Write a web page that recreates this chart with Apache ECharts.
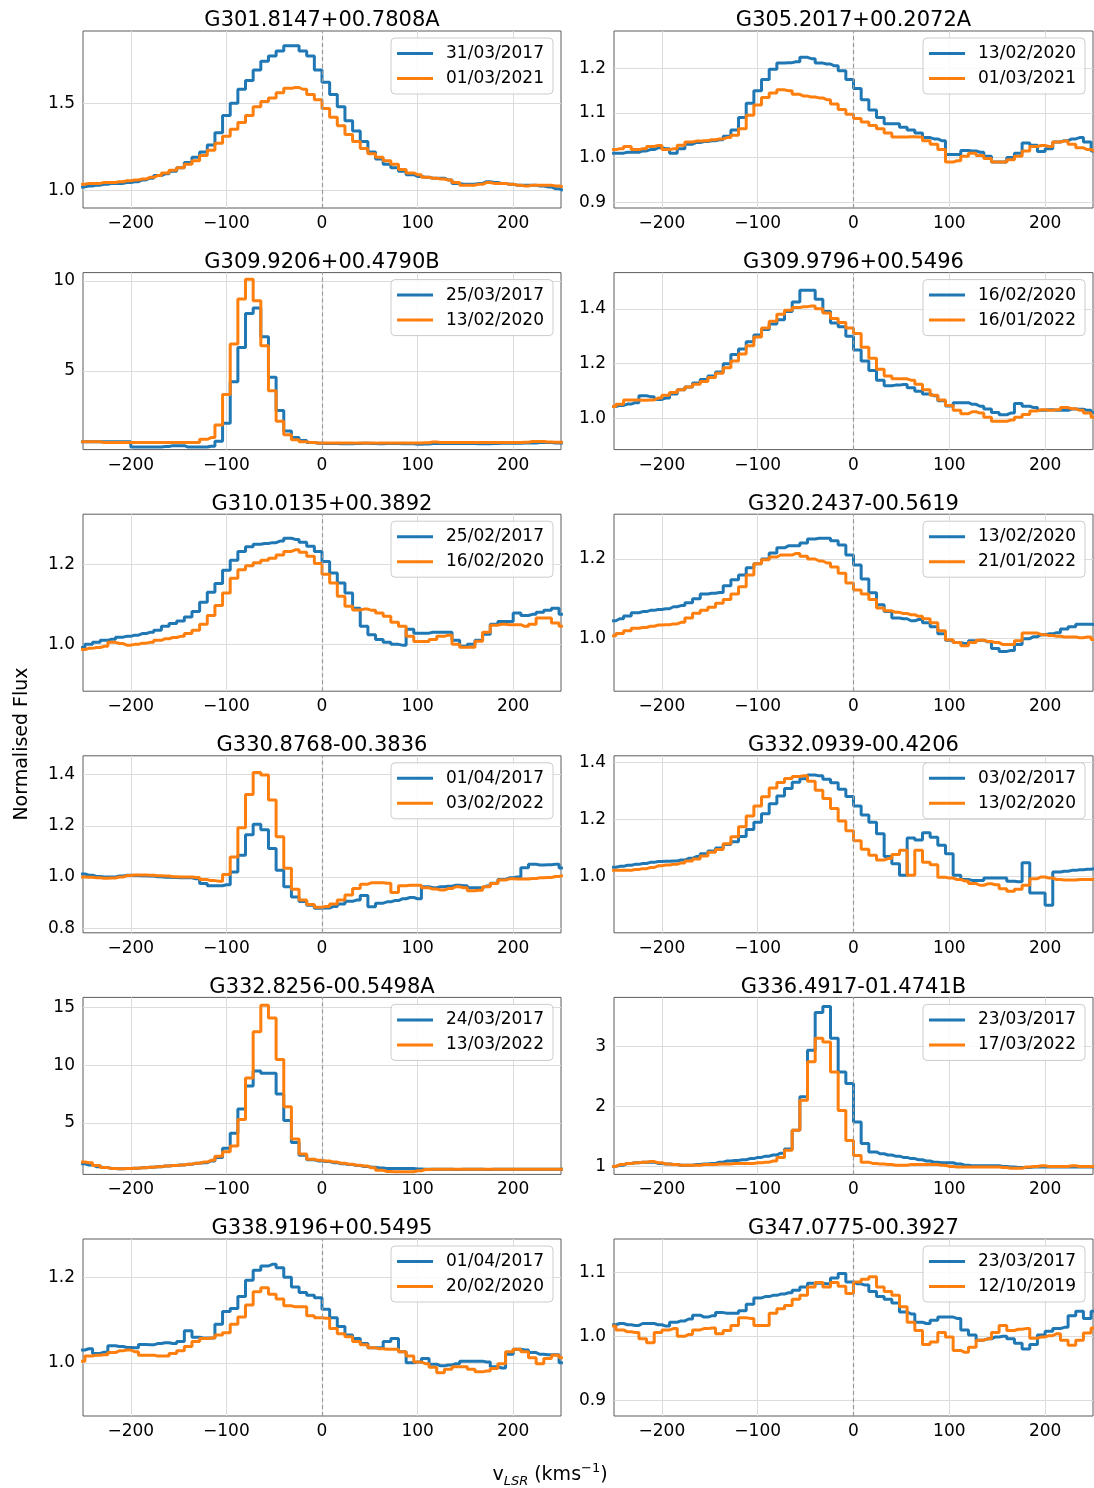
<!DOCTYPE html>
<html><head><meta charset="utf-8">
<script src="https://cdn.jsdelivr.net/npm/echarts@6/dist/echarts.min.js"></script>
<style>html,body{margin:0;padding:0;background:#fff}#c{width:1094px;height:1488px}</style>
</head><body><div id="c"></div>
<script>
// velocity channel centres (km/s)
const velocity = [-252,-244,-236,-228,-220,-212,-204,-196,-188,-180,-172,-164,-156,-148,-140,-132,
 -124,-116,-108,-100,-92,-84,-76,-68,-60,-52,-44,-36,-28,-20,-12,-4,
 4,12,20,28,36,44,52,60,68,76,84,92,100,108,116,124,
 132,140,148,156,164,172,180,188,196,204,212,220,228,236,244,252];

const titles = ['G301.8147+00.7808A','G305.2017+00.2072A','G309.9206+00.4790B','G309.9796+00.5496',
 'G310.0135+00.3892','G320.2437-00.5619','G330.8768-00.3836','G332.0939-00.4206',
 'G332.8256-00.5498A','G336.4917-01.4741B','G338.9196+00.5495','G347.0775-00.3927'];
const datesBlue = ['31/03/2017','13/02/2020','25/03/2017','16/02/2020','25/02/2017','13/02/2020',
 '01/04/2017','03/02/2017','24/03/2017','23/03/2017','01/04/2017','23/03/2017'];
const datesOrange = ['01/03/2021','01/03/2021','13/02/2020','16/01/2022','16/02/2020','21/01/2022',
 '03/02/2022','13/02/2020','13/03/2022','17/03/2022','20/02/2020','12/10/2019'];

const xTicks = [-200,-100,0,100,200];
const yTicks = [[1.0,1.5],[0.9,1.0,1.1,1.2],[5,10],[1.0,1.2,1.4],[1.0,1.2],[1.0,1.2],
 [0.8,1.0,1.2,1.4],[1.0,1.2,1.4],[5,10,15],[1,2,3],[1.0,1.2],[0.9,1.0,1.1]];
const yDecimals = [1,1,0,1,1,1,1,1,0,0,1,1];
const yMin = [0.899,0.887,0.63,0.887,0.883,0.868,0.782,0.804,0.53,0.867,0.876,0.8755];
const yMax = [1.914,1.284,10.47,1.532,1.325,1.3125,1.474,1.422,15.89,3.81,1.289,1.152];

// G301.8147+00.7808A
const blue1 = [1.02,1.025,1.03,1.035,1.04,1.04,1.045,1.05, 1.06,1.07,1.085,1.095,1.11,1.13,1.16,1.19,
 1.22,1.26,1.33,1.43,1.50,1.58,1.63,1.69, 1.74,1.77,1.80,1.83,1.83,1.80,1.77,1.69,
 1.62,1.55,1.48,1.40,1.34,1.28,1.22,1.18, 1.15,1.13,1.11,1.09,1.08,1.075,1.07,1.07,
 1.06,1.04,1.035,1.035,1.04,1.05,1.045,1.04, 1.035,1.03,1.03,1.03,1.025,1.02,1.01,1.00];
const orange1 = [1.035,1.04,1.04,1.045,1.045,1.05,1.055,1.06, 1.065,1.075,1.085,1.10,1.115,1.13,1.15,1.17,
 1.20,1.23,1.27,1.31,1.35,1.39,1.43,1.48, 1.51,1.53,1.56,1.585,1.59,1.58,1.55,1.52,
 1.47,1.42,1.37,1.32,1.28,1.24,1.21,1.19, 1.17,1.15,1.12,1.10,1.09,1.075,1.07,1.065,
 1.06,1.045,1.03,1.03,1.035,1.045,1.04,1.04, 1.035,1.03,1.025,1.03,1.03,1.03,1.025,1.02];
// G305.2017+00.2072A
const blue2 = [1.01,1.01,1.012,1.012,1.015,1.018,1.022,1.02, 1.01,1.02,1.03,1.034,1.036,1.038,1.04,1.048,
 1.062,1.09,1.122,1.15,1.175,1.198,1.212,1.213, 1.215,1.225,1.222,1.212,1.21,1.206,1.195,1.175,
 1.155,1.13,1.107,1.09,1.076,1.076,1.068,1.062, 1.055,1.045,1.042,1.038,1.007,1.007,1.016,1.015,
 1.012,1.003,0.99,0.99,1.0,1.01,1.033,1.028, 1.014,1.02,1.035,1.038,1.042,1.045,1.035,1.015];
const orange2 = [1.018,1.02,1.025,1.018,1.02,1.025,1.027,1.018, 1.02,1.028,1.035,1.037,1.038,1.04,1.042,1.045,
 1.05,1.065,1.095,1.118,1.135,1.145,1.152,1.15, 1.142,1.138,1.136,1.134,1.13,1.12,1.108,1.097,
 1.088,1.08,1.072,1.065,1.055,1.046,1.046,1.047, 1.046,1.038,1.03,1.018,0.99,0.993,1.003,1.01,
 1.005,0.998,0.99,0.99,0.995,1.003,1.015,1.025, 1.027,1.025,1.035,1.037,1.03,1.022,1.018,1.015];
// G309.9206+00.4790B
const blue3 = [1.06,1.06,1.06,1.06,1.06,1.06,1.06,0.78, 0.78,0.78,0.78,0.8,0.85,0.85,0.77,0.77,
 0.77,0.82,1.1,2.1,4.4,6.3,8.2,8.5, 6.9,4.65,2.8,1.66,1.3,1.14,1.02,0.98,
 0.97,0.97,0.96,0.96,0.97,0.98,0.97,0.96, 0.97,0.97,0.96,0.95,0.93,0.94,0.97,0.97,
 0.97,0.97,0.97,0.97,0.96,0.96,0.97,0.98, 0.98,0.98,0.99,1.0,1.02,1.02,1.0,1.0];
const orange3 = [1.07,1.07,1.07,1.02,1.02,1.02,1.02,1.02, 1.02,1.02,1.02,1.02,1.02,1.02,1.02,1.02,
 1.2,1.3,2.0,3.7,6.5,9.0,10.1,8.9, 6.4,3.9,2.2,1.45,1.18,1.06,1.02,1.0,
 1.0,1.0,1.0,1.0,0.99,0.99,0.99,1.0, 1.0,1.0,1.0,1.0,1.0,1.01,1.05,1.03,
 1.02,1.02,1.02,1.02,1.02,1.02,1.02,1.02, 1.02,1.02,1.04,1.08,1.08,1.05,1.04,1.04];
// G309.9796+00.5496
const blue4 = [1.044,1.048,1.053,1.058,1.083,1.08,1.07,1.075, 1.09,1.105,1.115,1.13,1.142,1.155,1.17,1.2,
 1.234,1.254,1.28,1.305,1.325,1.345,1.36,1.39, 1.425,1.468,1.468,1.435,1.39,1.348,1.335,1.3,
 1.25,1.21,1.175,1.14,1.12,1.122,1.124,1.112, 1.1,1.09,1.083,1.065,1.046,1.058,1.058,1.052,
 1.045,1.035,1.022,1.014,1.02,1.055,1.045,1.04, 1.03,1.032,1.03,1.03,1.035,1.034,1.03,1.022];
const orange4 = [1.044,1.052,1.068,1.068,1.067,1.068,1.075,1.085, 1.095,1.105,1.115,1.125,1.135,1.15,1.165,1.185,
 1.21,1.235,1.265,1.297,1.33,1.355,1.38,1.395, 1.405,1.408,1.41,1.4,1.385,1.365,1.35,1.33,
 1.31,1.26,1.22,1.18,1.155,1.145,1.145,1.14, 1.125,1.105,1.085,1.068,1.048,1.03,1.018,1.025,
 1.02,1.005,0.99,0.99,0.995,1.005,1.015,1.028, 1.032,1.03,1.032,1.04,1.036,1.03,1.02,1.005];
// G310.0135+00.3892
const blue5 = [0.992,1.0,1.005,1.01,1.013,1.018,1.02,1.023, 1.027,1.03,1.035,1.045,1.052,1.058,1.068,1.082,
 1.105,1.13,1.152,1.185,1.21,1.232,1.244,1.25, 1.252,1.254,1.258,1.265,1.262,1.255,1.245,1.232,
 1.207,1.178,1.153,1.128,1.09,1.045,1.024,1.012, 1.005,1.0,0.998,1.038,1.028,1.028,1.03,1.03,
 1.03,1.01,0.995,1.0,1.01,1.025,1.05,1.057, 1.057,1.078,1.072,1.075,1.08,1.085,1.09,1.075];
const orange5 = [0.987,0.99,0.992,0.995,1.005,1.002,0.998,1.0, 1.003,1.005,1.01,1.014,1.017,1.02,1.027,1.035,
 1.05,1.072,1.097,1.128,1.165,1.186,1.196,1.204, 1.21,1.215,1.223,1.232,1.236,1.23,1.22,1.202,
 1.175,1.153,1.12,1.095,1.086,1.088,1.085,1.078, 1.07,1.055,1.045,1.02,1.007,1.007,1.012,1.02,
 1.023,1.0,0.993,0.993,1.008,1.03,1.048,1.05, 1.049,1.049,1.045,1.05,1.066,1.066,1.053,1.045];
// G320.2437-00.5619
const blue6 = [1.045,1.05,1.057,1.065,1.068,1.071,1.073,1.075, 1.08,1.083,1.09,1.1,1.112,1.114,1.116,1.133,
 1.148,1.16,1.178,1.188,1.2,1.215,1.228,1.233, 1.233,1.24,1.25,1.252,1.252,1.246,1.235,1.21,
 1.185,1.15,1.115,1.085,1.068,1.052,1.05,1.045, 1.048,1.04,1.03,1.012,0.996,0.99,0.988,0.995,
 0.996,0.992,0.975,0.968,0.97,0.985,1.0,1.005, 1.01,1.012,1.015,1.024,1.03,1.036,1.036,1.035];
const orange6 = [1.007,1.013,1.02,1.026,1.028,1.031,1.034,1.035, 1.037,1.041,1.052,1.064,1.071,1.079,1.089,1.098,
 1.112,1.13,1.16,1.188,1.198,1.205,1.21,1.21, 1.214,1.207,1.2,1.195,1.19,1.18,1.164,1.14,
 1.122,1.112,1.098,1.077,1.07,1.066,1.063,1.06, 1.056,1.05,1.04,1.02,0.997,0.99,0.982,0.99,
 0.996,0.993,0.99,0.985,0.985,0.995,1.014,1.014, 1.01,1.008,1.006,1.004,1.004,1.002,1.004,0.998];
// G330.8768-00.3836
const blue7 = [1.012,1.007,1.002,1.0,1.0,1.004,1.007,1.006, 1.005,1.004,1.001,0.999,0.998,0.997,0.997,0.993,
 0.975,0.966,0.966,0.97,1.02,1.085,1.165,1.206, 1.185,1.112,1.027,0.962,0.922,0.904,0.89,0.878,
 0.879,0.885,0.895,0.905,0.91,0.928,0.884,0.898, 0.903,0.908,0.915,0.92,0.915,0.962,0.958,0.962,
 0.964,0.968,0.966,0.958,0.958,0.965,0.976,0.99, 0.997,1.0,1.036,1.05,1.047,1.048,1.05,1.035];
const orange7 = [1.0,0.999,0.997,0.995,0.996,1.0,1.006,1.008, 1.008,1.007,1.005,1.004,1.001,1.0,1.0,0.998,
 0.99,0.986,0.984,1.01,1.078,1.193,1.323,1.409, 1.399,1.301,1.158,1.034,0.952,0.91,0.893,0.882,
 0.885,0.895,0.91,0.93,0.955,0.972,0.978,0.978, 0.976,0.94,0.966,0.968,0.968,0.958,0.953,0.949,
 0.955,0.962,0.958,0.946,0.948,0.962,0.975,0.988, 0.993,0.992,0.992,0.994,0.997,0.998,1.002,1.006];
// G332.0939-00.4206
const blue8 = [1.033,1.036,1.04,1.043,1.046,1.05,1.053,1.054, 1.055,1.058,1.064,1.07,1.08,1.09,1.1,1.112,
 1.122,1.14,1.165,1.19,1.22,1.255,1.282,1.308, 1.33,1.342,1.355,1.352,1.34,1.328,1.305,1.28,
 1.247,1.215,1.19,1.15,1.07,1.045,1.005,1.135, 1.128,1.153,1.138,1.11,1.08,1.005,0.99,0.987,
 0.987,0.995,0.995,0.995,0.984,0.982,1.049,0.943, 0.943,0.9,1.016,1.019,1.022,1.024,1.026,1.028];
const orange8 = [1.022,1.022,1.022,1.025,1.028,1.032,1.038,1.041, 1.043,1.048,1.055,1.062,1.072,1.085,1.095,1.115,
 1.139,1.174,1.212,1.247,1.279,1.31,1.329,1.343, 1.35,1.352,1.333,1.302,1.273,1.238,1.194,1.16,
 1.125,1.096,1.075,1.058,1.063,1.077,1.092,1.005, 1.092,1.05,1.042,0.998,0.995,0.99,0.985,0.976,
 0.97,0.975,0.972,0.958,0.949,0.956,0.97,0.993, 0.999,0.995,0.99,0.988,0.988,0.99,0.99,0.99];
// G332.8256-00.5498A
const blue9 = [1.45,1.35,1.2,1.12,1.05,1.02,1.04,1.06, 1.1,1.15,1.2,1.25,1.3,1.35,1.4,1.5,
 1.55,1.7,2.0,2.8,4.1,6.2,8.2,9.5, 9.3,9.3,7.5,5.2,3.3,2.2,1.8,1.7,
 1.65,1.55,1.45,1.38,1.3,1.22,1.15,1.08, 1.05,1.05,1.05,1.04,1.0,0.97,0.97,0.97,
 0.97,0.96,0.97,0.97,0.97,0.96,0.97,0.97, 0.98,0.98,0.98,0.98,0.98,0.98,0.98,0.98];
const orange9 = [1.6,1.55,1.3,1.12,1.05,1.02,1.04,1.06, 1.1,1.15,1.2,1.25,1.3,1.35,1.42,1.5,
 1.6,1.75,2.1,2.5,3.0,5.3,8.9,12.9, 15.2,14.1,10.5,6.4,3.6,2.3,1.85,1.75,
 1.7,1.6,1.5,1.42,1.33,1.25,1.1,0.88, 0.78,0.76,0.76,0.76,0.85,0.95,0.97,0.97,
 0.97,0.97,0.97,0.97,0.97,0.97,0.97,0.97, 0.98,0.98,0.98,0.98,0.98,0.98,0.98,0.98];
// G336.4917-01.4741B
const blue10 = [1.0,1.02,1.05,1.06,1.07,1.07,1.05,1.04, 1.03,1.02,1.02,1.03,1.04,1.05,1.07,1.09,
 1.1,1.11,1.13,1.15,1.17,1.19,1.22,1.29, 1.6,2.16,2.93,3.56,3.66,3.13,2.57,2.38,
 1.74,1.38,1.24,1.21,1.19,1.17,1.15,1.13, 1.11,1.09,1.07,1.06,1.06,1.04,1.02,1.01,
 1.01,1.01,1.01,1.0,0.99,0.98,0.98,0.99, 0.99,0.99,0.99,0.99,0.99,0.99,0.99,0.99];
const orange10 = [1.0,1.03,1.05,1.06,1.07,1.08,1.06,1.04, 1.03,1.02,1.02,1.02,1.03,1.03,1.04,1.04,
 1.05,1.05,1.05,1.06,1.07,1.09,1.15,1.27, 1.6,2.1,2.74,3.13,3.07,2.57,1.93,1.43,
 1.18,1.07,1.05,1.04,1.03,1.02,1.02,1.03, 1.03,1.03,1.03,1.02,1.0,0.99,0.99,0.99,
 0.99,0.99,0.99,0.98,0.97,0.97,0.99,1.0, 1.01,1.0,1.0,1.0,1.01,1.0,1.0,1.0];
// G338.9196+00.5495
const blue11 = [1.03,1.033,1.022,1.025,1.04,1.038,1.036,1.035, 1.043,1.042,1.045,1.047,1.045,1.05,1.075,1.06,
 1.058,1.058,1.09,1.12,1.127,1.155,1.193,1.216, 1.226,1.23,1.222,1.2,1.177,1.164,1.158,1.152,
 1.125,1.105,1.085,1.065,1.057,1.045,1.035,1.035, 1.05,1.057,1.026,1.0,1.002,1.01,0.997,0.993,
 0.995,0.998,1.004,1.004,1.004,1.002,0.991,0.988, 1.02,1.032,1.03,1.024,1.02,1.019,1.019,1.0];
const orange11 = [1.004,1.016,1.018,1.019,1.024,1.028,1.03,1.026, 1.018,1.018,1.016,1.016,1.022,1.028,1.038,1.05,
 1.057,1.058,1.065,1.07,1.09,1.107,1.135,1.166, 1.175,1.16,1.149,1.133,1.131,1.131,1.11,1.105,
 1.104,1.08,1.068,1.061,1.05,1.042,1.035,1.033, 1.032,1.032,1.026,1.016,1.002,0.998,0.99,0.977,
 0.985,0.991,0.991,0.985,0.979,0.981,0.987,0.998, 1.026,1.032,1.026,1.012,0.998,1.01,1.018,1.012];
// G347.0775-00.3927
const blue12 = [1.018,1.02,1.018,1.017,1.02,1.02,1.018,1.016, 1.022,1.024,1.027,1.033,1.03,1.032,1.037,1.036,
 1.036,1.04,1.05,1.06,1.062,1.064,1.066,1.068, 1.072,1.077,1.083,1.083,1.082,1.091,1.098,1.085,
 1.082,1.08,1.07,1.062,1.058,1.052,1.038,1.035, 1.022,1.02,1.025,1.03,1.03,1.028,1.01,1.002,
 0.994,0.996,0.999,1.0,0.996,0.989,0.98,0.987, 1.002,1.008,1.012,1.014,1.032,1.039,1.028,1.039];
const orange12 = [1.016,1.01,1.007,1.006,0.996,0.99,1.006,1.01, 1.012,1.0,1.003,1.01,1.012,1.013,1.004,1.009,
 1.017,1.029,1.028,1.017,1.017,1.036,1.043,1.048, 1.058,1.064,1.077,1.084,1.077,1.084,1.078,1.067,
 1.085,1.089,1.093,1.077,1.07,1.064,1.046,1.022, 1.009,0.987,0.991,1.006,0.999,0.978,0.975,0.983,
 0.994,0.996,1.006,1.017,1.009,1.011,1.012,0.997, 0.999,1.001,1.004,0.994,0.986,0.994,1.005,1.013];

const blues = [blue1,blue2,blue3,blue4,blue5,blue6,blue7,blue8,blue9,blue10,blue11,blue12];
const oranges = [orange1,orange2,orange3,orange4,orange5,orange6,orange7,orange8,orange9,orange10,orange11,orange12];

const FONT = 'DejaVu Sans';
const BLUE = '#1f77b4', ORANGE = '#ff7f0e';
const colX = [83, 614], colW = [478, 479];
const rowY = [31, 272.6, 514.2, 755.8, 997.4, 1239], H = 177;
const fmtX = v => (v < 0 ? '\u2212' + Math.abs(v) : String(v));

const grid = [], xAxis = [], yAxis = [], series = [], title = [], legend = [];
for (let k = 0; k < 12; k++) {
  const c = k % 2, r = Math.floor(k / 2);
  grid.push({ left: colX[c], top: rowY[r], width: colW[c], height: H, show: true,
    borderColor: '#5c5c5c', borderWidth: 1, backgroundColor: 'transparent' });
  xAxis.push({ type: 'value', gridIndex: k, min: -250, max: 250,
    axisLine: { show: false }, axisTick: { show: false, customValues: xTicks },
    axisLabel: { customValues: xTicks, formatter: fmtX, fontSize: 17, fontFamily: FONT, color: '#000', margin: 7 },
    splitLine: { show: true, lineStyle: { color: '#dcdcdc', width: 1 } } });
  const dec = yDecimals[k];
  yAxis.push({ type: 'value', gridIndex: k, min: yMin[k], max: yMax[k],
    axisLine: { show: false }, axisTick: { show: false, customValues: yTicks[k] },
    axisLabel: { customValues: yTicks[k], formatter: v => Number(v).toFixed(dec), fontSize: 17, fontFamily: FONT, color: '#000', margin: 8 },
    splitLine: { show: true, lineStyle: { color: '#dcdcdc', width: 1 } } });
  title.push({ text: titles[k], left: colX[c] + colW[c] / 2, top: rowY[r] - 10, textAlign: 'center',
    textVerticalAlign: 'middle', padding: 0,
    textStyle: { fontSize: 21, fontWeight: 'normal', fontFamily: FONT, color: '#000' } });
  const nb = datesBlue[k] + '#' + k + 'b', no = datesOrange[k] + '#' + k + 'o';
  legend.push({ orient: 'vertical', right: (c === 0 ? 1094 - (colX[0] + colW[0]) : 1094 - (colX[1] + colW[1])) + 8,
    top: rowY[r] + 7, data: [nb, no], formatter: n => n.split('#')[0],
    icon: 'rect', itemWidth: 36, itemHeight: 3, itemGap: 8, padding: [7, 9, 7, 6],
    borderColor: '#cccccc', borderWidth: 1, borderRadius: 4, backgroundColor: 'rgba(255,255,255,0.85)',
    selectedMode: false,
    textStyle: { fontSize: 17, fontFamily: FONT, color: '#000', padding: [0, 0, 0, 8] } });
  series.push({ type: 'line', name: nb, xAxisIndex: k, yAxisIndex: k, step: 'middle', symbol: 'none',
    data: velocity.map((v, i) => [v, blues[k][i]]), lineStyle: { color: BLUE, width: 3 }, itemStyle: { color: BLUE },
    markLine: { silent: true, symbol: ['none', 'none'], label: { show: false },
      lineStyle: { color: '#999999', type: [4, 3], width: 1.2 }, data: [{ xAxis: 0 }] } });
  series.push({ type: 'line', name: no, xAxisIndex: k, yAxisIndex: k, step: 'middle', symbol: 'none',
    data: velocity.map((v, i) => [v, oranges[k][i]]), lineStyle: { color: ORANGE, width: 3 }, itemStyle: { color: ORANGE } });
}

const chart = echarts.init(document.getElementById('c'), null, { renderer: 'canvas' });
chart.setOption({
  animation: false, backgroundColor: '#fff',
  grid, xAxis, yAxis, series, title, legend,
  graphic: [
    { type: 'text', x: 22, y: 744, rotation: Math.PI / 2,
      style: { text: 'Normalised Flux', font: '19px "DejaVu Sans"', fill: '#000', align: 'center', verticalAlign: 'middle' } },
    { type: 'text', x: 550, y: 1475,
      style: { text: '{v|v}{s|LSR}{v| (kms}{p|\u22121}{v|)}', align: 'center', verticalAlign: 'middle',
        rich: {
          v: { fontSize: 19, fontFamily: FONT, fill: '#000', lineHeight: 26, verticalAlign: 'middle' },
          s: { fontSize: 13, fontFamily: FONT, fontStyle: 'italic', fill: '#000', lineHeight: 26, verticalAlign: 'bottom' },
          p: { fontSize: 13, fontFamily: FONT, fill: '#000', lineHeight: 26, verticalAlign: 'top' }
        } } }
  ]
});
</script></body></html>
